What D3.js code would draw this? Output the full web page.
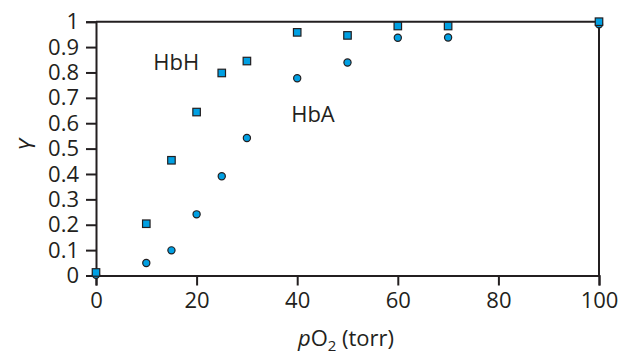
<!DOCTYPE html>
<html><head><meta charset="utf-8">
<script src="https://cdn.jsdelivr.net/npm/d3@7"></script>
<style>body{margin:0;background:#fff}svg{display:block}text{font-family:"Open Sans",sans-serif;fill:#231f20}</style>
</head><body><svg id="c" width="620" height="351"></svg>
<script>
const pO2 = [0, 10, 15, 20, 25, 30, 40, 50, 60, 70, 100];
const hbH = [0.012, 0.204, 0.454, 0.644, 0.798, 0.845, 0.958, 0.946, 0.983, 0.983, 1.0];
const hbA = [0.003, 0.049, 0.099, 0.241, 0.391, 0.542, 0.777, 0.839, 0.937, 0.938, 0.99];
const xTicks = [0, 20, 40, 60, 80, 100];
const yTicks = [0, 0.1, 0.2, 0.3, 0.4, 0.5, 0.6, 0.7, 0.8, 0.9, 1];
const seriesLabels = [{name: "HbH", x: 11.4, y: 0.81}, {name: "HbA", x: 38.8, y: 0.605}];

const svg = d3.select("#c");
const col = "#231f20", fill = "#00a0e3";
const fs = 22;
const x = d3.scaleLinear().domain([0, 100]).range([96, 599]);
const y = d3.scaleLinear().domain([0, 1]).range([275.5, 21.7]);

// frame top/right
svg.append("line").attr("x1", x(0)).attr("x2", x(100)).attr("y1", y(1)).attr("y2", y(1)).attr("stroke", col).attr("stroke-width", 2);
svg.append("line").attr("x1", x(100)).attr("x2", x(100)).attr("y1", y(1)).attr("y2", y(0)).attr("stroke", col).attr("stroke-width", 2);

const xa = svg.append("g").attr("transform", `translate(0,${y(0)})`)
  .call(d3.axisBottom(x).tickValues(xTicks).tickSize(10).tickPadding(5).tickFormat(d3.format("d")));
const ya = svg.append("g").attr("transform", `translate(${x(0)},0)`)
  .call(d3.axisLeft(y).tickValues(yTicks).tickSize(10).tickPadding(7).tickFormat(d => d3.format("")(d)));
[xa, ya].forEach(a => {
  a.select(".domain").attr("stroke", col).attr("stroke-width", 2);
  a.selectAll(".tick line").attr("stroke", col).attr("stroke-width", 2);
  a.selectAll(".tick text").attr("font-size", fs).attr("fill", col).attr("font-family", "Open Sans, sans-serif");
});
xa.selectAll(".tick text").attr("dy", "0.8em");

// circles (HbA)
svg.append("g").selectAll("circle").data(pO2.map((p, i) => [p, hbA[i]])).join("circle")
  .attr("cx", d => x(d[0])).attr("cy", d => y(d[1])).attr("r", 3.6)
  .attr("fill", fill).attr("stroke", col).attr("stroke-width", 1.2);
// squares (HbH)
const s = 7.5;
svg.append("g").selectAll("rect").data(pO2.map((p, i) => [p, hbH[i]])).join("rect")
  .attr("x", d => x(d[0]) - s / 2).attr("y", d => y(d[1]) - s / 2).attr("width", s).attr("height", s)
  .attr("fill", fill).attr("stroke", col).attr("stroke-width", 1.2);

svg.append("g").selectAll("text").data(seriesLabels).join("text")
  .attr("x", d => x(d.x)).attr("y", d => y(d.y)).attr("font-size", fs).text(d => d.name);

// axis titles
svg.append("text").attr("transform", "translate(35,145) rotate(-90)").attr("text-anchor", "middle")
  .attr("font-size", fs).attr("font-style", "italic").text("Y");
const xl = svg.append("text").attr("x", 346).attr("y", 346).attr("text-anchor", "middle").attr("font-size", fs);
xl.append("tspan").attr("font-style", "italic").text("p");
xl.append("tspan").text("O");
xl.append("tspan").attr("font-size", 15).attr("dy", 5).text("2");
xl.append("tspan").attr("dy", -5).text(" (torr)");
</script></body></html>
